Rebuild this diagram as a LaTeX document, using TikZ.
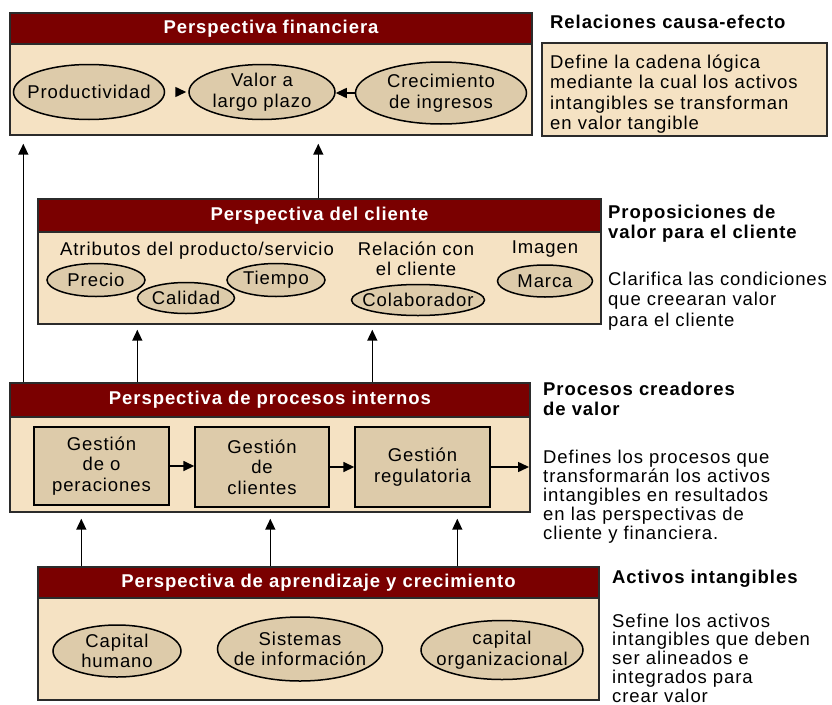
\documentclass[tikz,border=0pt]{standalone}
\usepackage{fontspec}
\setmainfont{Liberation Sans}[LetterSpace=5]
\usetikzlibrary{shapes.geometric,arrows.meta,calc}

\definecolor{barred}{HTML}{7A0000}
\definecolor{panelfill}{HTML}{F5E2C3}
\definecolor{ovalfill}{HTML}{DDCBAA}
\definecolor{edgegray}{HTML}{2B2B2B}

\newcommand\txtsz{\fontsize{18.5}{20.5}\selectfont}
\newcommand\hdsz{\fontsize{18.5}{20}\selectfont\bfseries}

\tikzset{
  panel/.style={rectangle, draw=edgegray, fill=panelfill, line width=1.4pt, inner sep=0pt},
  bar/.style={rectangle, draw=edgegray, fill=barred, text=white, font=\hdsz, line width=1.4pt, inner sep=0pt},
  % fixed-size ellipse; its text is set as a centred label so the outline keeps its size
  oval/.style={ellipse, draw=black, fill=ovalfill, line width=1.5pt, inner sep=0pt},
  ovaltxt/.style={inner sep=0pt, align=center, font=\txtsz},
  procbox/.style={rectangle, draw=black, fill=ovalfill, line width=1.4pt, inner sep=0pt, align=center, font=\txtsz},
  sublabel/.style={inner sep=0pt, font=\txtsz, align=center},
  note/.style={inner sep=0pt, anchor=north west, align=left, font=\txtsz},
  notehead/.style={inner sep=0pt, anchor=north west, align=left, font=\hdsz},
  flow/.style={-{Triangle[length=11pt,width=10pt]}, line width=1.5pt, draw=black},
}

\begin{document}
\begin{tikzpicture}[x=1pt,y=-1pt]
\useasboundingbox[fill=white] (0,0) rectangle (832,704);

% ---- Perspectiva financiera ----
\node[panel, minimum width=522pt, minimum height=122pt] (fin) at (271,74) {};
\node[bar, minimum width=522pt, minimum height=31pt, anchor=north] (finbar) at (fin.north) {Perspectiva financiera};
\node[oval, minimum width=151pt, minimum height=55pt, label={[ovaltxt]center:Productividad}] (prod) at (89,92) {};
\node[oval, minimum width=146pt, minimum height=55pt, label={[ovaltxt]center:Valor a\\largo plazo}] (valor) at (262,92) {};
\node[oval, minimum width=171pt, minimum height=62pt, label={[ovaltxt]center:Crecimiento\\de ingresos}] (crec) at (441,93) {};
\draw[flow, shorten <=11pt, shorten >=2pt] (prod.east) -- (prod.east -| valor.west);
\draw[flow] (crec.west) -- (crec.west -| valor.east);

\node[notehead, anchor=base west] (h1) at (550,28) {Relaciones causa-efecto};
\node[panel, minimum width=285pt, minimum height=93pt] (n1box) at (684.5,89.5) {};
\node[note] (n1) at (550,54.5) {Define la cadena lógica\\mediante la cual los activos\\intangibles se transforman\\en valor tangible};

% ---- Perspectiva del cliente ----
\node[panel, minimum width=563pt, minimum height=125pt] (cli) at (319.5,261.5) {};
\node[bar, minimum width=563pt, minimum height=33pt, anchor=north] (clibar) at (cli.north) {Perspectiva del cliente};
\node[sublabel, anchor=base] (attr) at (197,255) {Atributos del producto/servicio};
\node[sublabel, anchor=north] (rel) at (416,241.5) {Relación con\\el cliente};
\node[sublabel, anchor=base] (img) at (545,253) {Imagen};
\node[oval, minimum width=98pt, minimum height=33pt, label={[ovaltxt]center:Precio}] (precio) at (96,280) {};
\node[oval, minimum width=97pt, minimum height=31pt, label={[ovaltxt]center:Calidad}] (calidad) at (186,298) {};
\node[oval, minimum width=98pt, minimum height=33pt, label={[ovaltxt]center:Tiempo}] (tiempo) at (276,280) {};
\node[oval, minimum width=133pt, minimum height=31pt, label={[ovaltxt]center:Colaborador}] (colab) at (418,300) {};
\node[oval, minimum width=95pt, minimum height=32pt, label={[ovaltxt]center:Marca}] (marca) at (545,281) {};

\node[notehead] (h2) at (608,204.5) {Proposiciones de\\valor para el cliente};
\node[note] (n2) at (608,271.5) {Clarifica las condiciones\\que creearan valor\\para el cliente};

% ---- Perspectiva de procesos internos ----
\node[panel, minimum width=520pt, minimum height=129pt] (proc) at (270,447.5) {};
\node[bar, minimum width=520pt, minimum height=34pt, anchor=north] (procbar) at (proc.north) {Perspectiva de procesos internos};
\node[procbox, minimum width=135pt, minimum height=78pt] (gop) at (101.5,466) {Gestión\\de o\\peraciones};
\node[procbox, minimum width=134pt, minimum height=80pt] (gcl) at (262,467) {Gestión\\de\\clientes};
\node[procbox, minimum width=135pt, minimum height=80pt] (greg) at (422.5,467) {Gestión\\regulatoria};
\coordinate (pout) at (529,467);
\draw[flow] (gop.east) -- (gop.east -| gcl.west);
\draw[flow] (gcl.east) -- (gcl.east -| greg.west);
\draw[flow] (greg.east) -- (pout);

\node[notehead] (h3) at (543,381.5) {Procesos creadores\\de valor};
\node[note, font=\fontsize{18.5}{19.2}\selectfont] (n3) at (543,449.5) {Defines los procesos que\\transformarán los activos\\intangibles en resultados\\en las perspectivas de\\cliente y financiera.};

% ---- Perspectiva de aprendizaje y crecimiento ----
\node[panel, minimum width=561pt, minimum height=133pt] (apr) at (318.5,633.5) {};
\node[bar, minimum width=561pt, minimum height=31pt, anchor=north] (aprbar) at (apr.north) {Perspectiva de aprendizaje y crecimiento};
\node[oval, minimum width=128pt, minimum height=52pt, label={[ovaltxt]center:Capital\\humano}] (caph) at (117,651) {};
\node[oval, minimum width=165pt, minimum height=64pt, label={[ovaltxt]center:Sistemas\\de información}] (sist) at (300,649) {};
\node[oval, minimum width=162pt, minimum height=59pt, label={[ovaltxt]center:capital\\organizacional}] (capo) at (502,650) {};

\node[notehead, anchor=base west] (h4) at (612,583) {Activos intangibles};
\node[note, font=\fontsize{18.5}{18.8}\selectfont] (n4) at (612,613.5) {Sefine los activos\\intangibles que deben\\ser alineados e\\integrados para\\crear valor};

% ---- links between perspectives ----
\coordinate (s1) at ($(proc.north west)+(14,0)$);
\draw[flow, shorten >=8pt] (s1) -- (s1 |- fin.south);
\coordinate (s2) at ($(cli.north west)+(281,0)$);
\draw[flow, shorten >=8pt] (s2) -- (s2 |- fin.south);
\coordinate (s3) at ($(proc.north west)+(128,0)$);
\draw[flow, shorten >=5pt] (s3) -- (s3 |- cli.south);
\coordinate (s4) at ($(proc.north west)+(363,0)$);
\draw[flow, shorten >=5pt] (s4) -- (s4 |- cli.south);
\coordinate (s5) at ($(apr.north west)+(44,0)$);
\draw[flow, shorten >=6pt] (s5) -- (s5 |- proc.south);
\coordinate (s6) at ($(apr.north west)+(233,0)$);
\draw[flow, shorten >=6pt] (s6) -- (s6 |- proc.south);
\coordinate (s7) at ($(apr.north west)+(420,0)$);
\draw[flow, shorten >=6pt] (s7) -- (s7 |- proc.south);
\end{tikzpicture}
\end{document}
